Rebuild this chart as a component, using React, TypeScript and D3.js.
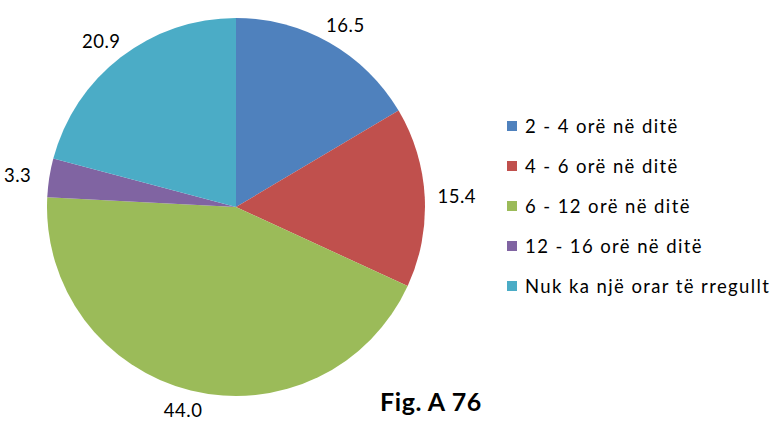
import React, { useEffect, useRef } from 'react';
import * as d3 from 'd3';

const categories = ['2 - 4 orë në ditë', '4 - 6 orë në ditë', '6 - 12 orë në ditë', '12 - 16 orë në ditë', 'Nuk ka një orar të rregullt'];
const values = [16.5, 15.4, 44.0, 3.3, 20.9];
const colors = ['#4F81BD', '#C0504D', '#9BBB59', '#8064A2', '#4BACC6'];
const caption = 'Fig. A 76';

export default function App() {
  const svgRef = useRef<SVGSVGElement>(null);

  useEffect(() => {
    const svg = d3.select(svgRef.current);
    svg.selectAll('*').remove();

    const width = 774;
    const height = 421;
    const cx = 236;
    const cy = 207;
    const r = 189;
    const font = 'Lato, "Open Sans", sans-serif';

    svg.attr('width', width).attr('height', height);

    const pie = d3.pie<number>().sort(null).value(d => d);
    const arcs = pie(values);
    const arc = d3.arc<d3.PieArcDatum<number>>().innerRadius(0).outerRadius(r);

    const g = svg.append('g').attr('transform', `translate(${cx},${cy})`);

    g.selectAll('path')
      .data(arcs)
      .join('path')
      .attr('d', arc)
      .attr('fill', (d, i) => colors[i]);

    // Data labels outside the pie
    const pad = 14;
    g.selectAll('text.lbl')
      .data(arcs)
      .join('text')
      .attr('class', 'lbl')
      .attr('font-family', font)
      .attr('font-size', 18.5)
      .attr('letter-spacing', 0.5)
      .attr('fill', '#000')
      .attr('text-anchor', 'middle')
      .attr('dominant-baseline', 'central')
      .attr('x', d => {
        const a = (d.startAngle + d.endAngle) / 2;
        return Math.sin(a) * (r + pad) + Math.sin(a) * 18;
      })
      .attr('y', d => {
        const a = (d.startAngle + d.endAngle) / 2;
        return -Math.cos(a) * (r + pad) - Math.cos(a) * 6;
      })
      .text(d => d.data.toFixed(1));

    // Legend
    const legendY = d3.scalePoint<string>().domain(categories).range([126, 286]);
    const legend = svg.append('g');
    categories.forEach((c, i) => {
      const y = legendY(c)!;
      legend.append('rect')
        .attr('x', 507)
        .attr('y', y - 5)
        .attr('width', 10)
        .attr('height', 10)
        .attr('fill', colors[i]);
      legend.append('text')
        .attr('x', 525)
        .attr('y', y)
        .attr('dominant-baseline', 'central')
        .attr('font-family', font)
        .attr('font-size', 18.5)
        .attr('letter-spacing', 1.4)
        .attr('fill', '#000')
        .text(c);
    });

    svg.append('text')
      .attr('x', 380)
      .attr('y', 411)
      .attr('font-family', font)
      .attr('font-size', 25)
      .attr('font-weight', 'bold')
      .attr('letter-spacing', 0.6)
      .attr('fill', '#000')
      .text(caption);
  }, []);

  return (
    <div style={{ position: 'absolute', left: 0, top: 0 }}>
      <svg ref={svgRef} style={{ display: 'block' }}></svg>
    </div>
  );
}
